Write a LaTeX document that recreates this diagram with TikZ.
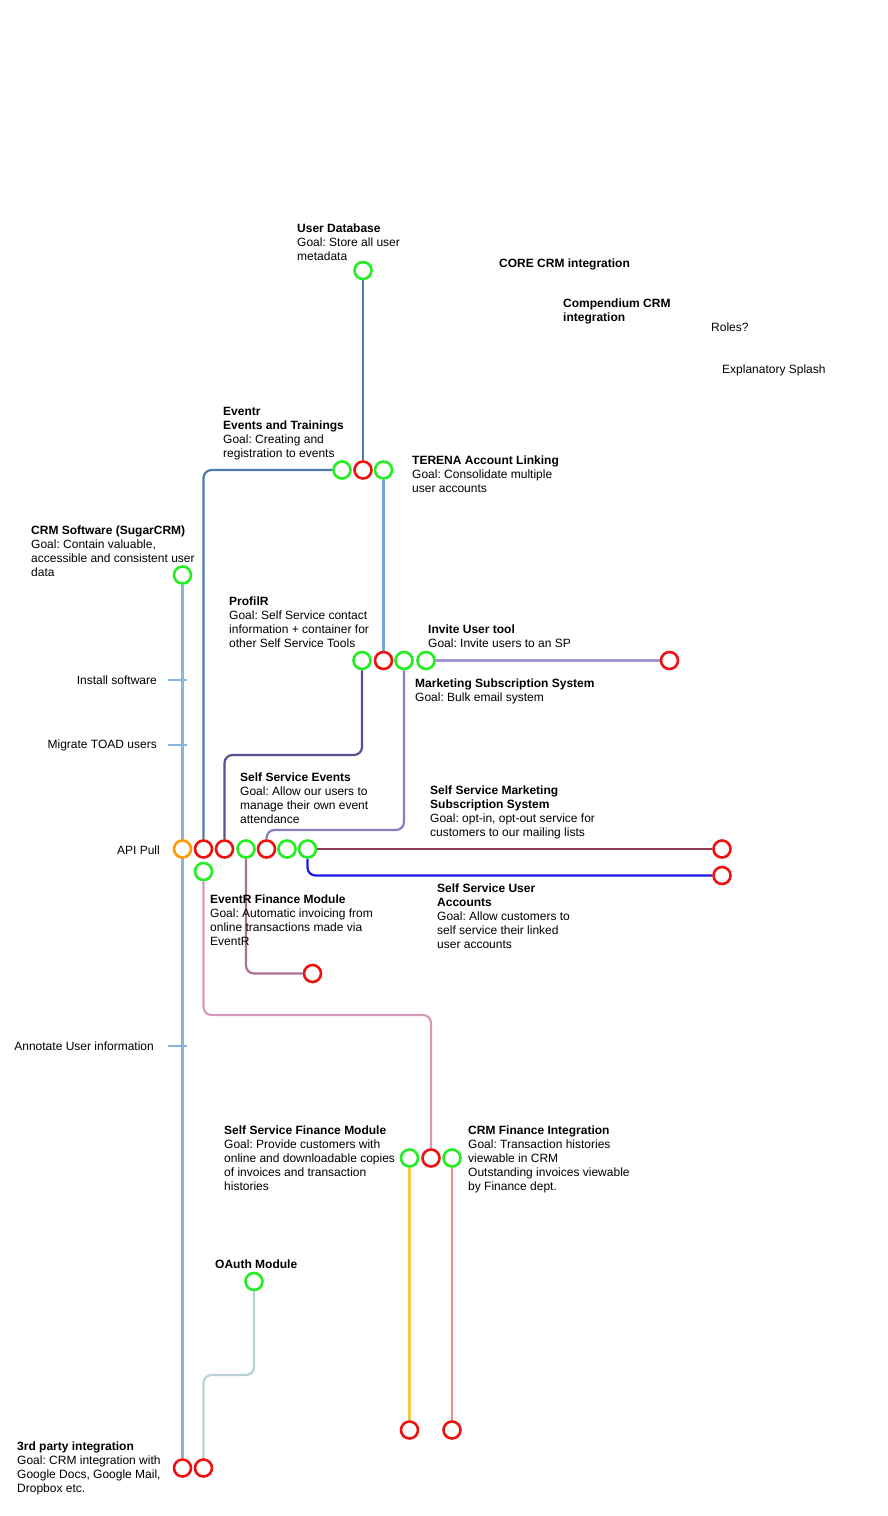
\documentclass[tikz,border=0pt]{standalone}
\usepackage{fontspec}
\setmainfont{Liberation Sans}
\usetikzlibrary{backgrounds}
\frenchspacing
\definecolor{stgreen}{HTML}{22EE22}
\definecolor{stred}{HTML}{EE1111}
\definecolor{storange}{HTML}{FF9900}
\definecolor{crmblue}{HTML}{8AB4E0}
\definecolor{dbblue}{HTML}{4F7AAE}
\definecolor{terblue}{HTML}{79A8D8}
\definecolor{pfpurple}{HTML}{5E4E90}
\definecolor{mkpurple}{HTML}{8E7CC3}
\definecolor{invpurple}{HTML}{A296D4}
\definecolor{marmaroon}{HTML}{8B3A5A}
\definecolor{ssublue}{HTML}{1A1AEE}
\definecolor{efmauve}{HTML}{AE7097}
\definecolor{sfpink}{HTML}{D69AB8}
\definecolor{sfyellow}{HTML}{F5C84A}
\definecolor{cfrose}{HTML}{E88C8C}
\definecolor{oagrey}{HTML}{B8D0D6}
\tikzset{
  stn/.style={circle, draw, line width=2.6pt, fill=white, minimum size=17pt, inner sep=0pt},
  done/.style={stn, draw=stgreen},
  todo/.style={stn, draw=stred},
  wip/.style={stn, draw=storange},
  lbl/.style={font=\fontsize{12}{14}\selectfont, align=left, anchor=north west, inner sep=0pt},
  side/.style={font=\fontsize{12}{14}\selectfont, anchor=base east, inner sep=0pt},
  track/.style={line width=2.2pt, rounded corners=8pt},
}
\begin{document}
\frenchspacing
\begin{tikzpicture}[x=1pt, y=-1pt]
\useasboundingbox (0,0) rectangle (888,1516);

% stations
\node[done] (udb) at (363,270.5){};
\node[done] (evt) at (342,470){};
\node[todo] (tdr) at (363,470){};
\node[done] (ter) at (383.5,470){};
\node[done] (crm) at (182.5,575){};
\node[done] (pfg) at (362,660.5){};
\node[todo] (pfr) at (383.5,660.5){};
\node[done] (mkg) at (404,660.5){};
\node[done] (inv) at (426,660.5){};
\node[todo] (inve) at (669.5,660.5){};
\node[wip] (api) at (182.5,849){};
\node[todo] (evr) at (203.5,849){};
\node[todo] (pfe) at (224.5,849){};
\node[done] (sse) at (246,849){};
\node[todo] (mke) at (266.5,849){};
\node[done] (ssm) at (287,849){};
\node[done] (ssu) at (307.5,849){};
\node[done] (efg) at (203.5,871.5){};
\node[todo] (ssme) at (722,849){};
\node[todo] (ssue) at (722,875.5){};
\node[todo] (efe) at (312.5,973.5){};
\node[done] (sfg) at (409.5,1158){};
\node[todo] (sfr) at (431,1158){};
\node[done] (cfg) at (452,1158){};
\node[todo] (sfe) at (409.5,1430){};
\node[todo] (cfe) at (452,1430){};
\node[done] (oa) at (254,1281.5){};
\node[todo] (tpa) at (182.5,1468){};
\node[todo] (tpb) at (203.5,1468){};

% labels
\node[lbl] (udbt) at (297,224) {\textbf{User Database}\\Goal: Store all user\\metadata};
\node[lbl] (coret) at (499,259) {\textbf{CORE CRM integration}};
\node[lbl] (compt) at (563,299) {\textbf{Compendium CRM}\\\textbf{integration}};
\node[lbl] (rolt) at (711,323) {Roles?};
\node[lbl] (splt) at (722,365) {Explanatory Splash};
\node[lbl] (evtt) at (223,407) {\textbf{Eventr}\\\textbf{Events and Trainings}\\Goal: Creating and\\registration to events};
\node[lbl] (tert) at (412,456) {\textbf{TERENA Account Linking}\\Goal: Consolidate multiple\\user accounts};
\node[lbl] (crmt) at (31,526) {\textbf{CRM Software (SugarCRM)}\\Goal: Contain valuable,\\accessible and consistent user\\data};
\node[lbl] (pft) at (229,597) {\textbf{ProfilR}\\Goal: Self Service contact\\information + container for\\other Self Service Tools};
\node[lbl] (invt) at (428,625) {\textbf{Invite User tool}\\Goal: Invite users to an SP};
\node[lbl] (mkt) at (415,679) {\textbf{Marketing Subscription System}\\Goal: Bulk email system};
\node[lbl] (sset) at (240,773) {\textbf{Self Service Events}\\Goal: Allow our users to\\manage their own event\\attendance};
\node[lbl] (ssmt) at (430,786) {\textbf{Self Service Marketing}\\\textbf{Subscription System}\\Goal: opt-in, opt-out service for\\customers to our mailing lists};
\node[lbl] (ssut) at (437,884) {\textbf{Self Service User}\\\textbf{Accounts}\\Goal: Allow customers to\\self service their linked\\user accounts};
\node[lbl] (eft) at (210,895) {\textbf{EventR Finance Module}\\Goal: Automatic invoicing from\\online transactions made via\\EventR};
\node[lbl] (sft) at (224,1126) {\textbf{Self Service Finance Module}\\Goal: Provide customers with\\online and downloadable copies\\of invoices and transaction\\histories};
\node[lbl] (cft) at (468,1126) {\textbf{CRM Finance Integration}\\Goal: Transaction histories\\viewable in CRM\\Outstanding invoices viewable\\by Finance dept.};
\node[lbl] (oat) at (215,1260) {\textbf{OAuth Module}};
\node[lbl] (tpt) at (17,1442) {\textbf{3rd party integration}\\Goal: CRM integration with\\Google Docs, Google Mail,\\Dropbox etc.};
\node[side] (inst) at (157,684) {Install software};
\node[side] (migt) at (157,748) {Migrate TOAD users};
\node[side] (apit) at (160,854) {API Pull};
\node[side] (annt) at (154,1050.5) {Annotate User information};

% ticks on the CRM line
\coordinate (tk1) at (168,680);
\coordinate (tk2) at (168,745);
\coordinate (tk3) at (168,1046);

% tracks
\begin{scope}[on background layer]
\fill[white] (0,0) rectangle (888,1516);
\draw[track, crmblue] (crm) -- (tpa);
\draw[track, crmblue] (tk1) -- ++(19,0);
\draw[track, crmblue] (tk2) -- ++(19,0);
\draw[track, crmblue] (tk3) -- ++(19,0);
\draw[track, dbblue] (udb) -- (tdr);
\draw[track, dbblue] (evt) -| (evr);
\draw[track, terblue] (ter) -- (pfr);
\draw[track, pfpurple] (pfg) -- ++(0,94.5) -| (pfe);
\draw[track, mkpurple] (mkg) -- ++(0,169.5) -| (mke);
\draw[track, invpurple] (inv) -- (inve);
\draw[track, marmaroon] (ssu) -- (ssme);
\draw[track, ssublue] (ssu) |- (ssue);
\draw[track, efmauve] (sse) |- (efe);
\draw[track, sfpink] (efg) -- ++(0,143.5) -| (sfr);
\draw[track, sfyellow] (sfg) -- (sfe);
\draw[track, cfrose] (cfg) -- (cfe);
\draw[track, oagrey] (oa) -- ++(0,93.5) -| (tpb);
\end{scope}
\end{tikzpicture}
\end{document}
